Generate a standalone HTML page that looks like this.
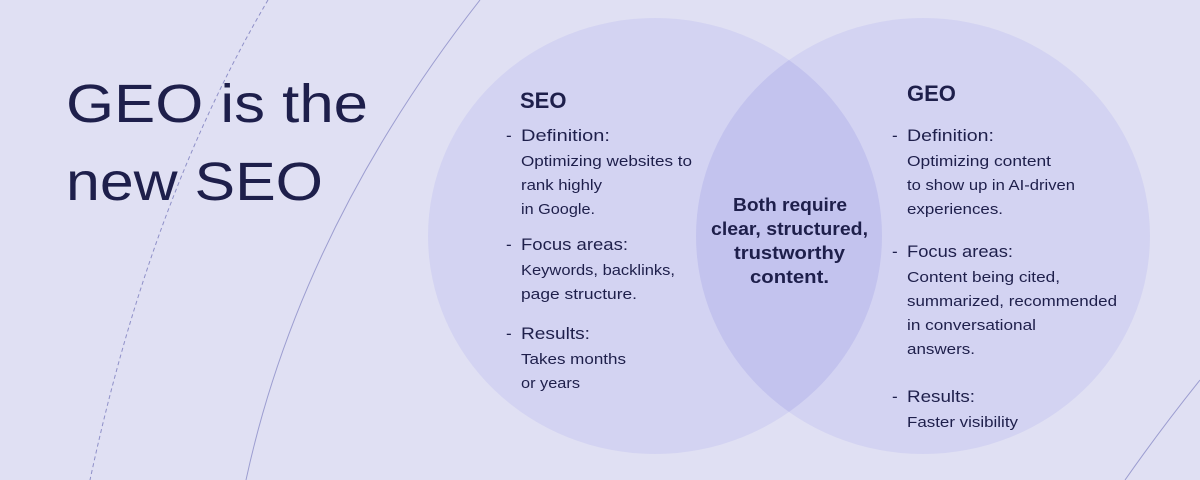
<!DOCTYPE html>
<html><head><meta charset="utf-8"><style>
html,body{margin:0;padding:0;}
body{width:1200px;height:480px;overflow:hidden;background:#e0e0f3;font-family:"Liberation Sans",sans-serif;}
svg{position:absolute;left:0;top:0;}
text{fill:#1e1f4b;font-family:"Liberation Sans",sans-serif;}
.h{font-size:22px;font-weight:bold;}
.l{font-size:17px;}
.b{font-size:15px;}
.c{font-size:18px;font-weight:bold;}
</style></head><body>
<svg width="1200" height="480" viewBox="0 0 1200 480">
<path d="M268 0 Q150 200 90 480" fill="none" stroke="#8f90c8" stroke-width="1" stroke-dasharray="4 3"/>
<path d="M480 0 Q300 230 246 480" fill="none" stroke="#9c9dd0" stroke-width="1"/>
<path d="M1200 380 Q1160 430 1125 480" fill="none" stroke="#9c9dd0" stroke-width="1"/>
<defs><clipPath id="cl"><ellipse cx="655" cy="236" rx="227" ry="218"/></clipPath></defs>
<ellipse cx="655" cy="236" rx="227" ry="218" fill="#d3d3f2"/>
<ellipse cx="923" cy="236" rx="227" ry="218" fill="#d3d3f2"/>
<ellipse cx="923" cy="236" rx="227" ry="218" fill="#c3c3ee" clip-path="url(#cl)"/>
<g lengthAdjust="spacingAndGlyphs">
<text x="66" y="122" style="font-size:54px" textLength="302" lengthAdjust="spacingAndGlyphs">GEO is the</text>
<text x="66" y="200" style="font-size:54px" textLength="257" lengthAdjust="spacingAndGlyphs">new SEO</text>
<text class="h" x="520" y="108">SEO</text>
<text class="l" x="506" y="141">-</text><text class="l" x="521" y="141" textLength="89" lengthAdjust="spacingAndGlyphs">Definition:</text>
<text class="b" x="521" y="166" textLength="171" lengthAdjust="spacingAndGlyphs">Optimizing websites to</text>
<text class="b" x="521" y="190" textLength="81" lengthAdjust="spacingAndGlyphs">rank highly</text>
<text class="b" x="521" y="214" textLength="74" lengthAdjust="spacingAndGlyphs">in Google.</text>
<text class="l" x="506" y="250">-</text><text class="l" x="521" y="250" textLength="107" lengthAdjust="spacingAndGlyphs">Focus areas:</text>
<text class="b" x="521" y="275" textLength="154" lengthAdjust="spacingAndGlyphs">Keywords, backlinks,</text>
<text class="b" x="521" y="299" textLength="116" lengthAdjust="spacingAndGlyphs">page structure.</text>
<text class="l" x="506" y="339">-</text><text class="l" x="521" y="339" textLength="69" lengthAdjust="spacingAndGlyphs">Results:</text>
<text class="b" x="521" y="364" textLength="105" lengthAdjust="spacingAndGlyphs">Takes months</text>
<text class="b" x="521" y="388" textLength="59" lengthAdjust="spacingAndGlyphs">or years</text>
<text class="c" x="733" y="211" textLength="114" lengthAdjust="spacingAndGlyphs">Both require</text>
<text class="c" x="711" y="235" textLength="157" lengthAdjust="spacingAndGlyphs">clear, structured,</text>
<text class="c" x="734" y="259" textLength="111" lengthAdjust="spacingAndGlyphs">trustworthy</text>
<text class="c" x="750" y="283" textLength="79" lengthAdjust="spacingAndGlyphs">content.</text>
<text class="h" x="907" y="101">GEO</text>
<text class="l" x="892" y="141">-</text><text class="l" x="907" y="141" textLength="87" lengthAdjust="spacingAndGlyphs">Definition:</text>
<text class="b" x="907" y="166" textLength="144" lengthAdjust="spacingAndGlyphs">Optimizing content</text>
<text class="b" x="907" y="190" textLength="168" lengthAdjust="spacingAndGlyphs">to show up in AI-driven</text>
<text class="b" x="907" y="214" textLength="96" lengthAdjust="spacingAndGlyphs">experiences.</text>
<text class="l" x="892" y="257">-</text><text class="l" x="907" y="257" textLength="106" lengthAdjust="spacingAndGlyphs">Focus areas:</text>
<text class="b" x="907" y="282" textLength="153" lengthAdjust="spacingAndGlyphs">Content being cited,</text>
<text class="b" x="907" y="306" textLength="210" lengthAdjust="spacingAndGlyphs">summarized, recommended</text>
<text class="b" x="907" y="330" textLength="129" lengthAdjust="spacingAndGlyphs">in conversational</text>
<text class="b" x="907" y="354" textLength="68" lengthAdjust="spacingAndGlyphs">answers.</text>
<text class="l" x="892" y="402">-</text><text class="l" x="907" y="402" textLength="68" lengthAdjust="spacingAndGlyphs">Results:</text>
<text class="b" x="907" y="427" textLength="111" lengthAdjust="spacingAndGlyphs">Faster visibility</text>
</g>
</svg>
</body></html>
